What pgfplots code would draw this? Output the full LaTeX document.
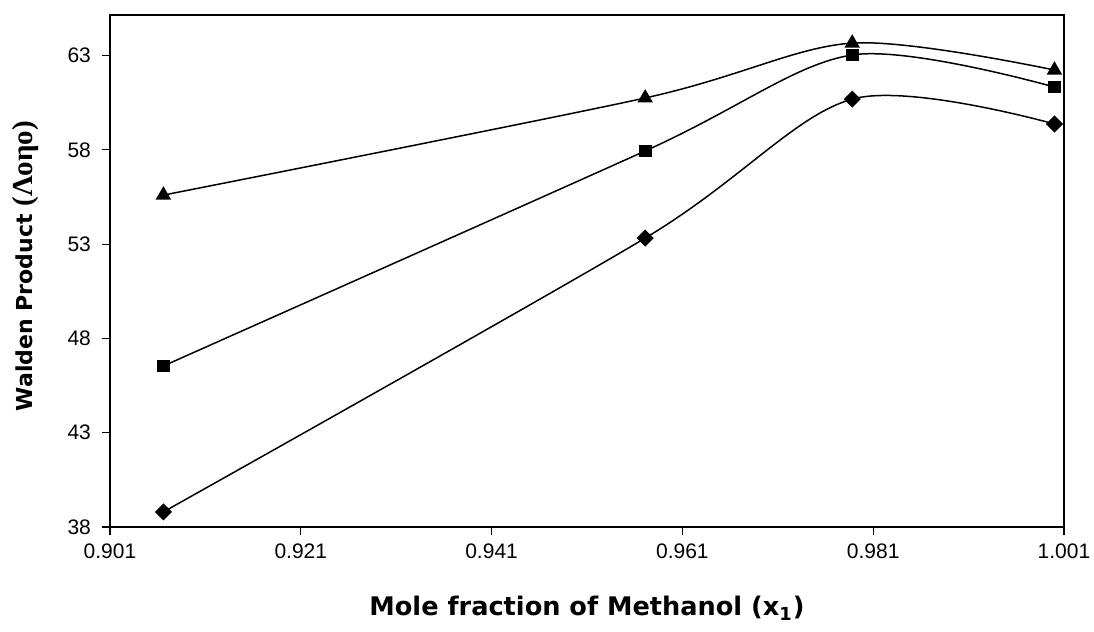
\documentclass[border=0pt]{standalone}
\usepackage{fontspec}
\setmainfont{Liberation Sans}
\newfontfamily\labelfont{DejaVu Sans}
\newfontfamily\greekfont{Liberation Serif}
\usepackage{pgfplots}
\pgfplotsset{compat=1.18}

\begin{document}
\begin{tikzpicture}
% 1 px of the reference = 0.5pt
\path[use as bounding box] (-55pt,-52.5pt) rectangle (492pt,263.5pt);
\begin{axis}[
    at={(0pt,0pt)}, anchor=south west,
    scale only axis,
    width=477pt, height=256pt,
    xmin=0.901, xmax=1.001,
    ymin=38, ymax=65.15,
    xtick={0.901,0.921,0.941,0.961,0.981,1.001},
    xticklabels={0.901,0.921,0.941,0.961,0.981,1.001},
    ytick={38,43,48,53,58,63},
    tick align=outside,
    major tick length=4pt,
    xtick pos=bottom, ytick pos=left,
    tick style={black, line width=0.6pt},
    axis line style={line width=0.7pt},
    /pgf/number format/assume math mode=true,
    tick label style={font=\fontsize{10.5}{12}\selectfont},
    xticklabel style={yshift=-1pt},
    yticklabel style={xshift=-2pt},
    xlabel={\labelfont\bfseries Mole fraction of Methanol (x\textsubscript{1})},
    ylabel={\labelfont\bfseries Walden Product {\fontsize{14.5}{16}\selectfont\greekfont(Λοηο)}},
    xlabel style={font=\fontsize{12.8}{14}\selectfont, at={(axis description cs:0.5,0)}, anchor=center, yshift=-40.5pt},
    ylabel style={font=\fontsize{11}{14}\selectfont, at={(axis description cs:0,0.5)}, anchor=center, yshift=42pt, xshift=2.5pt},
    every axis plot/.append style={black, line width=0.75pt, smooth, tension=0.5},
]
\addplot[mark=square*, mark size=2.65pt, mark options={rotate=45}] coordinates {
    (0.9066,38.80) (0.9571,53.32) (0.9788,60.69) (1.0000,59.37)
};
\addplot[mark=square*, mark size=2.8pt] coordinates {
    (0.9066,46.54) (0.9571,57.94) (0.9788,63.03) (1.0000,61.33)
};
\addplot[mark=triangle*, mark size=3.7pt] coordinates {
    (0.9066,55.60) (0.9571,60.75) (0.9788,63.66) (1.0000,62.23)
};
\end{axis}
\end{tikzpicture}
\end{document}
